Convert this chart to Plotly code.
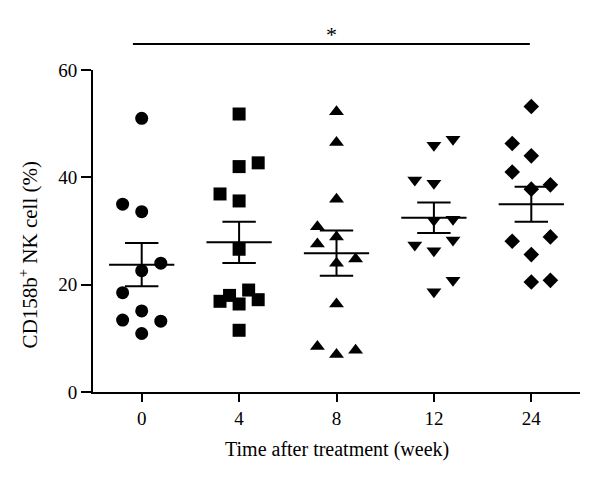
import numpy as np
import plotly.graph_objects as go

categories = ["0", "4", "8", "12", "24"]
week0 = [51.0, 35.0, 33.6, 24.0, 22.6, 18.5, 15.1, 13.4, 13.2, 10.9]
week4 = [51.8, 42.7, 42.0, 36.9, 35.6, 26.6, 19.0, 18.0, 17.2, 16.9, 16.4, 11.5]
week8 = [52.2, 46.5, 35.9, 30.8, 28.9, 27.6, 24.8, 24.0, 16.4, 8.5, 7.8, 7.0]
week12 = [47.1, 46.0, 39.5, 38.9, 32.2, 32.0, 28.3, 27.4, 26.3, 20.8, 18.7]
week24 = [53.2, 46.3, 44.0, 41.0, 38.6, 37.8, 28.9, 28.1, 25.6, 20.8, 20.5]

# horizontal spreading slots for overlapping points (offset = slot * 0.1 category)
slots0 = [0, -2, 0, 2, 0, -2, 0, -2, 2, 0]
slots4 = [0, 2, 0, -2, 0, 0, 1, -1, 2, -2, 0, 0]
slots8 = [0, 0, 0, -2, 0, -2, 2, 0, 0, -2, 2, 0]
slots12 = [2, 0, -2, 0, 2, 0, 2, -2, 0, 2, 0]
slots24 = [0, -2, 0, -2, 2, 0, 2, -2, 0, 2, 0]

groups = [week0, week4, week8, week12, week24]
slots = [slots0, slots4, slots8, slots12, slots24]
symbols = ["circle", "square", "triangle-up", "triangle-down", "diamond"]
sizes = [13, 13, 13, 13, 12]

FONT = "Liberation Serif"
fig = go.Figure()

for i, (vals, sl, sym, sz) in enumerate(zip(groups, slots, symbols, sizes)):
    v = np.array(vals)
    xs = [i + 0.098 * s for s in sl]
    fig.add_trace(go.Scatter(x=xs, y=vals, mode="markers",
                             marker=dict(symbol=sym, size=sz, color="black", line=dict(width=0)),
                             showlegend=False, hoverinfo="y"))
    mean = v.mean()
    sem = v.std(ddof=1) / np.sqrt(len(v))
    fig.add_trace(go.Scatter(x=[i - 0.335, i + 0.335], y=[mean, mean], mode="lines",
                             line=dict(color="black", width=2), showlegend=False, hoverinfo="skip"))
    fig.add_trace(go.Scatter(x=[i], y=[mean], mode="markers", marker=dict(size=1, opacity=0),
                             error_y=dict(type="data", array=[sem], visible=True, color="black",
                                          thickness=2, width=16.7),
                             showlegend=False, hoverinfo="skip"))

# significance bar between week 0 and week 24
sig_from, sig_to = 0, 4
fig.add_shape(type="line", xref="x", yref="paper", x0=sig_from - 0.09, x1=sig_to - 0.015,
              y0=1.081, y1=1.081, line=dict(color="black", width=2))
fig.add_annotation(xref="x", yref="paper", x=(sig_from - 0.09 + sig_to - 0.015) / 2, y=1.11,
                   text="*", showarrow=False, font=dict(family=FONT, size=22, color="black"),
                   yanchor="middle")

# y axis title
fig.add_annotation(xref="paper", yref="paper", x=-0.133, y=0.425, textangle=-90,
                   text="CD158b<sup>+</sup> NK cell (%)", showarrow=False,
                   font=dict(family=FONT, size=21, color="black"),
                   xanchor="center", yanchor="middle")

# x axis title
fig.add_annotation(xref="paper", yref="paper", x=0.5, y=-0.18,
                   text="Time after treatment (week)", showarrow=False,
                   font=dict(family=FONT, size=20, color="black"),
                   xanchor="center", yanchor="middle")

fig.update_layout(
    width=600, height=478,
    margin=dict(l=85, r=28, t=62, b=94),
    paper_bgcolor="white", plot_bgcolor="white",
    font=dict(family=FONT, size=19, color="black"),
    xaxis=dict(range=[-0.5, 4.5], tickvals=list(range(len(categories))), ticktext=categories,
               showline=True, linecolor="black", linewidth=2, ticks="outside", ticklen=8,
               tickwidth=2, tickcolor="black", showgrid=False, zeroline=False),
    yaxis=dict(range=[0, 60], tickvals=[0, 20, 40, 60], showline=True, linecolor="black",
               linewidth=2, ticks="outside", ticklen=10, tickwidth=2, tickcolor="black",
               showgrid=False, zeroline=False),
)

fig.write_html("out.html")
